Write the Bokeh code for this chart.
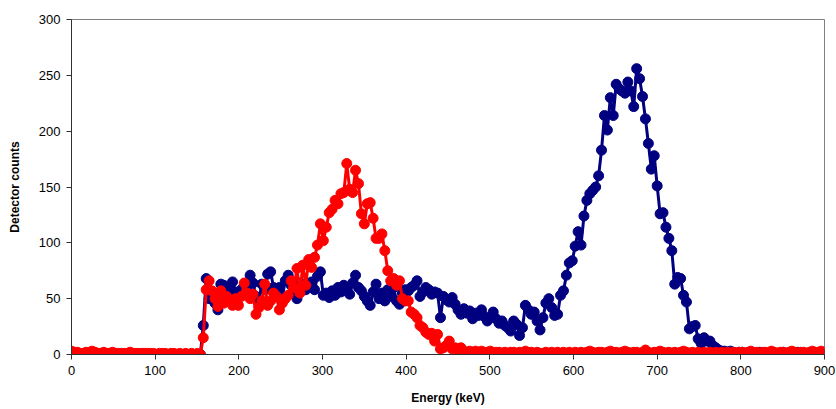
from bokeh.plotting import figure
from bokeh.models import Range1d, FixedTicker
from bokeh.embed import file_html
from bokeh.resources import INLINE

step = 3.5
red_counts = [3, 2, 2, 1, 1, 2, 1, 3, 2, 1, 1, 2, 1, 1, 2, 1, 1, 1, 1, 1, 2, 1, 1, 1, 1, 1, 1, 1, 1, 0,
              1, 1, 1, 0, 1, 1, 0, 1, 0, 1, 0, 1, 0, 1, 0,
              15, 58, 66, 57, 50, 43, 57, 46, 52, 48, 44, 50, 44, 52, 64, 55, 50, 54, 36, 42,
              48, 63, 44, 48, 55, 52, 40, 46, 50, 53, 66, 60, 77, 55, 80, 62, 85, 78, 87, 98,
              117, 102, 114, 127, 130, 138, 135, 144, 145, 171, 148, 145, 165, 153, 126, 117, 135, 136, 122, 104,
              104, 108, 93, 75, 66, 68, 62, 66, 50, 48, 48, 38, 36, 33, 26, 24, 20, 18, 19, 12,
              18, 5, 6, 8, 12, 5, 6, 4, 6, 3, 2, 3, 2, 3, 2, 3, 2, 2, 3, 1,
              2, 2, 1, 2, 1, 2, 2, 1, 2, 1, 3, 2, 2, 1, 2, 1, 1, 2, 1, 2,
              1, 2, 1, 2, 1, 2, 1, 2, 1, 2, 1, 2, 3, 2, 1, 2, 2, 1, 2, 3,
              2, 2, 1, 2, 3, 2, 1, 2, 2, 1, 2, 4, 2, 1, 2, 2, 3, 2, 1, 2,
              1, 2, 1, 2, 3, 2, 1, 2, 1, 2, 1, 2, 1, 2, 1, 2, 1, 2, 1, 2,
              1, 2, 1, 2, 2, 1, 2, 3, 1, 2, 1, 2, 2, 1, 3, 2, 1, 2, 2, 1,
              2, 3, 2, 1, 2, 2, 1, 2, 3, 2, 2, 3]
blue_counts = [1, 0, 0, 0, 1, 0, 0, 0, 0, 0, 0, 1, 0, 0, 0, 0, 0, 0, 0, 0, 0, 0, 0, 0, 0, 0, 0, 0, 0, 0,
               0, 0, 0, 0, 0, 0, 0, 0, 0, 0, 0, 0, 0, 0, 0,
               26, 68, 50, 52, 46, 40, 63, 62, 55, 58, 65, 56, 54, 58, 62, 60, 71, 64, 52, 48,
               63, 58, 72, 74, 60, 57, 60, 52, 66, 71, 62, 56, 50, 64, 60, 58, 63, 65, 58, 70,
               74, 53, 55, 51, 57, 53, 60, 56, 62, 58, 54, 64, 71, 60, 57, 52, 48, 44, 56, 63,
               50, 55, 48, 58, 52, 60, 48, 45, 55, 58, 57, 60, 62, 66, 52, 56, 60, 58, 54, 56,
               55, 33, 52, 49, 47, 51, 45, 40, 36, 41, 37, 39, 32, 37, 35, 40, 34, 30, 33, 38,
               32, 28, 30, 26, 24, 21, 30, 27, 17, 24, 44, 40, 36, 38, 30, 22, 33, 46, 50, 42,
               35, 36, 53, 57, 71, 82, 84, 97, 110, 98, 124, 138, 144, 147, 150, 160, 183, 214, 201, 230,
               214, 242, 238, 236, 234, 244, 236, 222, 256, 247, 231, 211, 189, 166, 178, 151, 126, 127, 114, 104,
               93, 63, 69, 68, 53, 47, 23, 25, 26, 14, 10, 15, 12, 12, 8, 6, 4, 3, 3, 2,
               3, 2, 1, 2, 2, 1, 1, 2, 1, 1, 2, 1, 1, 1, 2, 1, 1, 1, 2, 1,
               1, 1, 1, 2, 1, 1, 1, 1, 1, 1, 1, 1]
energy = [round(i * step, 1) for i in range(len(red_counts))]
energy_b = [round(i * step, 1) for i in range(len(blue_counts))]

x_ticks = [0, 100, 200, 300, 400, 500, 600, 700, 800, 900]
y_ticks = [0, 50, 100, 150, 200, 250, 300]

p = figure(width=836, height=409, output_backend="svg", toolbar_location=None,
           x_range=Range1d(0, 900), y_range=Range1d(0, 300),
           min_border_left=71, min_border_right=12, min_border_top=19, min_border_bottom=55)
p.background_fill_color = "white"
p.border_fill_color = "white"
p.outline_line_color = "#808080"
p.xgrid.visible = False
p.ygrid.visible = False

blue = "#000080"
red = "#FF0000"
p.line(energy_b, blue_counts, line_color=blue, line_width=3)
p.scatter(energy_b, blue_counts, size=10, fill_color=blue, line_color=blue)
p.line(energy, red_counts, line_color=red, line_width=3)
p.scatter(energy, red_counts, size=10, fill_color=red, line_color=red)

for ax in (p.xaxis[0], p.yaxis[0]):
    ax.axis_line_color = "#303030"
    ax.major_tick_line_color = "#303030"
    ax.minor_tick_line_color = None
    ax.major_tick_in = 0
    ax.major_tick_out = 5
    ax.major_label_text_font = "Liberation Sans"
    ax.major_label_text_font_size = "13px"
    ax.major_label_text_color = "#000000"
    ax.axis_label_text_font = "Liberation Sans"
    ax.axis_label_text_font_size = "12px"
    ax.axis_label_text_font_style = "bold"
    ax.axis_label_text_color = "#000000"

p.xaxis.ticker = FixedTicker(ticks=x_ticks)
p.yaxis.ticker = FixedTicker(ticks=y_ticks)
p.xaxis.axis_label = "Energy (keV)"
p.yaxis.axis_label = "Detector counts"
p.xaxis.major_label_standoff = 6
p.yaxis.major_label_standoff = 6
p.xaxis.axis_label_standoff = 13
p.yaxis.axis_label_standoff = 14

open("out.html", "w").write(file_html(p, INLINE))
